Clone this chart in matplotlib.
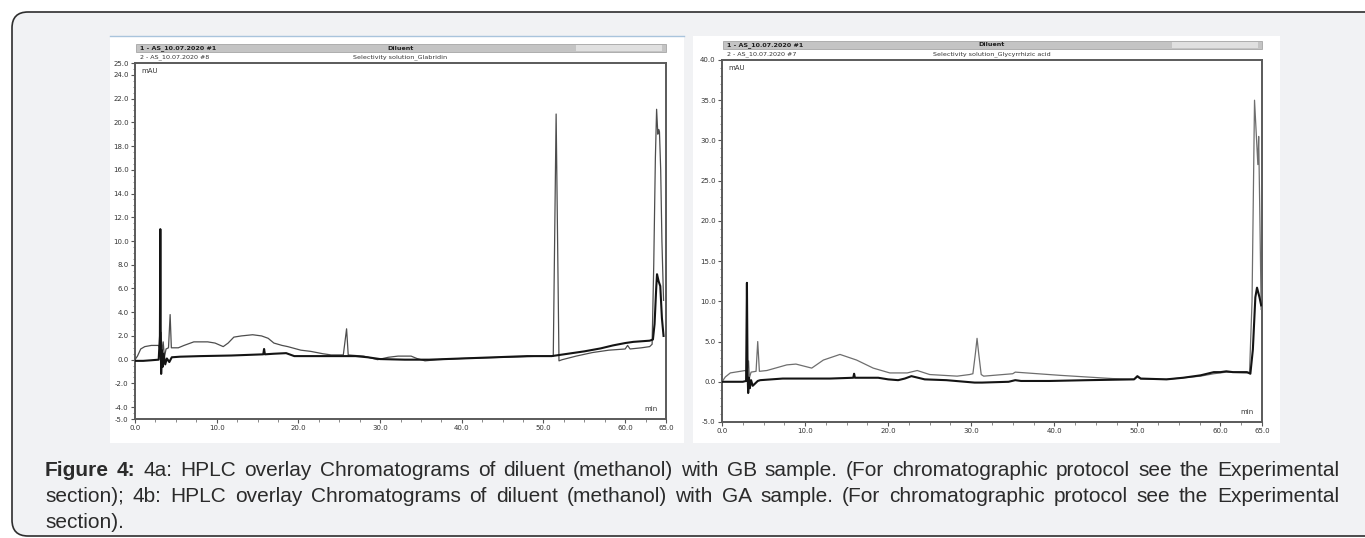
import matplotlib.pyplot as plt
from matplotlib.patches import FancyBboxPatch, Rectangle
from matplotlib.ticker import MultipleLocator, FixedLocator

W, H = 1365, 538

# ---- data (time in min, signal in mAU) ----
# 4a: diluent (black) and Glabridin sample (grey)
gb_dil_t = [0.0, 1.0, 2.0, 2.9, 3.05, 3.1, 3.15, 3.2, 3.3, 3.4, 3.5, 3.7, 3.9, 4.2, 4.5,
            5.5, 8.0, 11.8, 15.7, 15.8, 15.9, 17.0, 18.5, 19.5, 21.0, 24.0, 27.0, 28.5,
            30.0, 33.0, 36.0, 40.0, 44.0, 48.0, 51.0, 53.0, 55.0, 57.0, 58.5, 60.0,
            61.0, 62.0, 63.0, 63.4, 63.6, 63.8, 63.9, 64.1, 64.3, 64.5, 64.7]
gb_dil_y = [-0.1, -0.1, -0.05, 0.0, 2.0, 11.0, 2.0, -1.2, 0.8, -0.6, 0.5, -0.4, 0.1, -0.2, 0.2,
            0.25, 0.3, 0.35, 0.45, 0.9, 0.45, 0.5, 0.55, 0.3, 0.3, 0.3, 0.3, 0.2,
            0.05, 0.0, 0.0, 0.1, 0.2, 0.3, 0.3, 0.5, 0.7, 0.95, 1.2, 1.4,
            1.5, 1.55, 1.6, 1.7, 3.0, 6.0, 7.2, 6.6, 6.2, 3.5, 2.0]
gb_smp_t = [0.0, 0.3, 0.7, 1.2, 2.0, 2.9, 3.0, 3.2, 3.3, 3.45, 3.6, 3.8, 4.1, 4.3, 4.45,
            5.3, 6.0, 7.2, 8.9, 9.8, 10.8, 11.4, 12.1, 13.0, 14.4, 15.5, 16.3, 17.0,
            18.0, 18.7, 20.3, 21.5, 23.0, 24.0, 25.5, 25.9, 26.1, 27.0, 28.0, 29.7,
            31.0, 32.2, 33.8, 34.5, 35.5, 37.0, 40.0, 45.0, 50.0, 51.2, 51.55, 51.9,
            52.3, 54.0, 56.0, 58.0, 60.0, 60.3, 60.6, 62.0, 63.0, 63.3, 63.5, 63.7,
            63.85, 64.0, 64.1, 64.2, 64.35, 64.5, 64.7]
gb_smp_y = [0.0, 0.3, 0.9, 1.1, 1.2, 1.2, 1.0, 2.3, 0.3, 1.5, 0.2, 0.9, 1.0, 3.8, 1.0,
            1.0, 1.2, 1.5, 1.5, 1.4, 1.1, 1.4, 1.9, 2.0, 2.1, 2.0, 1.8, 1.4,
            1.2, 1.1, 0.8, 0.7, 0.5, 0.4, 0.4, 2.6, 0.4, 0.35, 0.3, 0.0,
            0.2, 0.3, 0.3, 0.1, -0.1, 0.0, 0.1, 0.2, 0.3, 0.3, 20.7, -0.1,
            0.0, 0.3, 0.6, 0.8, 0.9, 1.2, 0.9, 1.0, 1.1, 1.3, 8.0, 17.0,
            21.1, 19.0, 19.4, 19.2, 16.0, 10.0, 5.0]

# 4b: diluent (black) and Glycyrrhizic acid sample (grey)
ga_dil_t = [0.0, 1.0, 2.5, 2.9, 3.0, 3.08, 3.15, 3.25, 3.35, 3.5, 3.7, 4.0, 4.3, 4.6,
            7.3, 10.0, 13.0, 15.8, 15.9, 16.0, 18.8, 20.0, 21.2, 22.0, 22.8, 23.6,
            24.4, 27.0, 30.4, 31.3, 34.5, 35.3, 36.0, 39.4, 44.0, 49.6, 50.0, 50.4,
            53.5, 55.5, 57.6, 59.2, 60.0, 60.7, 61.5, 63.2, 63.6, 63.9, 64.2, 64.4,
            64.7, 64.9]
ga_dil_y = [0.0, 0.0, 0.0, 0.1, 12.3, 1.0, -1.4, 0.5, -0.8, 0.2, -0.5, -0.2, 0.1, 0.2,
            0.4, 0.4, 0.4, 0.5, 1.0, 0.5, 0.5, 0.3, 0.2, 0.4, 0.7, 0.5,
            0.3, 0.2, -0.1, -0.1, 0.0, 0.2, 0.1, 0.1, 0.2, 0.3, 0.7, 0.4,
            0.3, 0.5, 0.8, 1.2, 1.2, 1.3, 1.2, 1.2, 1.0, 4.0, 10.5, 11.7,
            10.5, 9.5]
ga_smp_t = [0.0, 0.4, 1.0, 2.8, 3.0, 3.2, 3.3, 3.5, 4.1, 4.3, 4.5, 5.4, 7.8, 8.9,
            10.8, 12.2, 14.2, 16.2, 18.2, 20.2, 22.3, 23.5, 25.0, 28.3, 29.8, 30.2,
            30.5, 30.7, 30.9, 31.2, 31.5, 35.0, 35.3, 40.7, 47.0, 49.6, 50.0, 50.4,
            53.5, 57.6, 59.2, 60.7, 63.2, 63.5, 63.8, 64.1, 64.3, 64.5, 64.6, 64.75,
            64.9]
ga_smp_y = [0.0, 0.6, 1.1, 1.4, 1.2, 2.6, 0.5, 1.2, 1.3, 5.0, 1.3, 1.4, 2.1, 2.2,
            1.7, 2.7, 3.4, 2.7, 1.7, 1.1, 1.1, 1.4, 0.9, 0.7, 0.9, 1.0,
            3.5, 5.4, 3.5, 0.9, 0.7, 1.0, 1.2, 0.8, 0.4, 0.3, 0.6, 0.35,
            0.3, 0.7, 1.0, 1.2, 1.1, 1.2, 10.0, 35.0, 31.0, 27.0, 30.5, 20.0,
            9.0]

gb_yticks = [25, 24, 22, 20, 18, 16, 14, 12, 10, 8, 6, 4, 2, 0, -2, -4, -5]
ga_yticks = [40, 35, 30, 25, 20, 15, 10, 5, 0, -5]
xticks = [0, 10, 20, 30, 40, 50, 60, 65]

panels = [
    dict(bg=(110, 36, 684, 443), ax=(135, 63, 666, 419), ylim=(-5, 25), yticks=gb_yticks,
         ymin=0.5, run="#8", sample="Selectivity solution_Glabridin",
         dil=(gb_dil_t, gb_dil_y), smp=(gb_smp_t, gb_smp_y), grey="#4d4d4d", blue=True),
    dict(bg=(693, 36, 1280, 443), ax=(722, 60, 1262, 422), ylim=(-5, 40), yticks=ga_yticks,
         ymin=1.0, run="#7", sample="Selectivity solution_Glycyrrhizic acid",
         dil=(ga_dil_t, ga_dil_y), smp=(ga_smp_t, ga_smp_y), grey="#6e6e6e", blue=False),
]


def fx(x):
    return x / W


def fy(y):
    return 1 - y / H


fig = plt.figure(figsize=(W / 100, H / 100), dpi=100)
fig.patch.set_facecolor("white")

# rounded caption box (drawn in inches so the corners stay round)
box = FancyBboxPatch((12 / 100, (H - 536) / 100), 1400 / 100, 524 / 100,
                     boxstyle="round,pad=0,rounding_size=0.16",
                     transform=fig.dpi_scale_trans, facecolor="#f1f2f4",
                     edgecolor="#2e2e2e", linewidth=1.2, zorder=0)
fig.patches.append(box)

for p in panels:
    x0, y0, x1, y1 = p["bg"]
    fig.patches.append(Rectangle((fx(x0), fy(y1)), fx(x1 - x0), (y1 - y0) / H,
                                 transform=fig.transFigure, facecolor="white",
                                 edgecolor="none", zorder=1))
    if p["blue"]:
        fig.lines.append(plt.Line2D([fx(x0), fx(x1)], [fy(y0), fy(y0)],
                                    transform=fig.transFigure, color="#a9c4dc", lw=1.0))

    a0, b0, a1, b1 = p["ax"]
    ax = fig.add_axes([fx(a0), fy(b1), fx(a1 - a0), (b1 - b0) / H])
    ax.set_zorder(2)
    ax.plot(*p["smp"], color=p["grey"], lw=0.9, zorder=3)
    ax.plot(*p["dil"], color="#141414", lw=1.5, zorder=4)
    ax.set_xlim(0, 65)
    ax.set_ylim(*p["ylim"])
    ax.xaxis.set_major_locator(FixedLocator(xticks))
    ax.xaxis.set_minor_locator(MultipleLocator(2.5))
    ax.yaxis.set_major_locator(FixedLocator(p["yticks"]))
    ax.yaxis.set_minor_locator(MultipleLocator(p["ymin"]))
    ax.set_xticklabels(["%.1f" % v for v in xticks])
    ax.set_yticklabels(["%.1f" % v for v in p["yticks"]])
    ax.tick_params(which="major", length=3, width=0.8, color="#555555",
                   labelsize=5, labelcolor="#333333", pad=1.5)
    ax.tick_params(which="minor", length=1.8, width=0.6, color="#777777")
    for s in ax.spines.values():
        s.set_color("#5a5a5a")
        s.set_linewidth(1.4)
    ax.text(0.012, 0.985, "mAU", transform=ax.transAxes, fontsize=5,
            color="#333333", va="top", ha="left")
    ax.text(0.985, 0.02, "min", transform=ax.transAxes, fontsize=5,
            color="#333333", va="bottom", ha="right")

    # Chromeleon style header above the plot
    hy1 = b0 - 15
    hy2 = b0 - 6
    fig.patches.append(Rectangle((fx(a0 + 1), fy(hy1 + 4)), fx(a1 - a0 - 1), 8 / H,
                                 transform=fig.transFigure, facecolor="#c4c4c4",
                                 edgecolor="#9a9a9a", linewidth=0.5, zorder=2))
    fig.patches.append(Rectangle((fx(a1 - 90), fy(hy1 + 3)), fx(86), 6 / H,
                                 transform=fig.transFigure, facecolor="#e0e0e0",
                                 edgecolor="none", zorder=2))
    mid = (a0 + a1) / 2
    fig.text(fx(a0 + 5), fy(hy1), "1 - AS_10.07.2020 #1", fontsize=4.6,
             weight="bold", color="#1e1e1e", va="center", ha="left", zorder=3)
    fig.text(fx(mid), fy(hy1), "Diluent", fontsize=4.6, weight="bold",
             color="#1e1e1e", va="center", ha="center", zorder=3)
    fig.text(fx(a0 + 5), fy(hy2), "2 - AS_10.07.2020 " + p["run"], fontsize=4.6,
             color="#333333", va="center", ha="left", zorder=3)
    fig.text(fx(mid), fy(hy2), p["sample"], fontsize=4.6,
             color="#333333", va="center", ha="center", zorder=3)

# justified caption
cap_lines = [
    [("Figure", True), ("4:", True)] + [(w, False) for w in
     "4a: HPLC overlay Chromatograms of diluent (methanol) with GB sample. (For chromatographic protocol see the Experimental".split()],
    [(w, False) for w in
     "section); 4b: HPLC overlay Chromatograms of diluent (methanol) with GA sample. (For chromatographic protocol see the Experimental".split()],
    [(w, False) for w in "section).".split()],
]
cap_y = [470, 497, 523]
x_left, x_right = 45, 1339
renderer = fig.canvas.get_renderer()
for i, (words, yy) in enumerate(zip(cap_lines, cap_y)):
    arts = [fig.text(0, fy(yy), w, fontsize=15.0, family="Liberation Sans",
                     weight="bold" if b else "normal", color="#2b2b2b",
                     va="center", ha="left") for w, b in words]
    widths = [a.get_window_extent(renderer).width for a in arts]
    if i < 2:
        gap = (x_right - x_left - sum(widths)) / (len(arts) - 1)
    else:
        gap = 5.0
    x = x_left
    for a, w in zip(arts, widths):
        a.set_x(fx(x))
        x += w + gap

fig.savefig("out.png", dpi=100)
